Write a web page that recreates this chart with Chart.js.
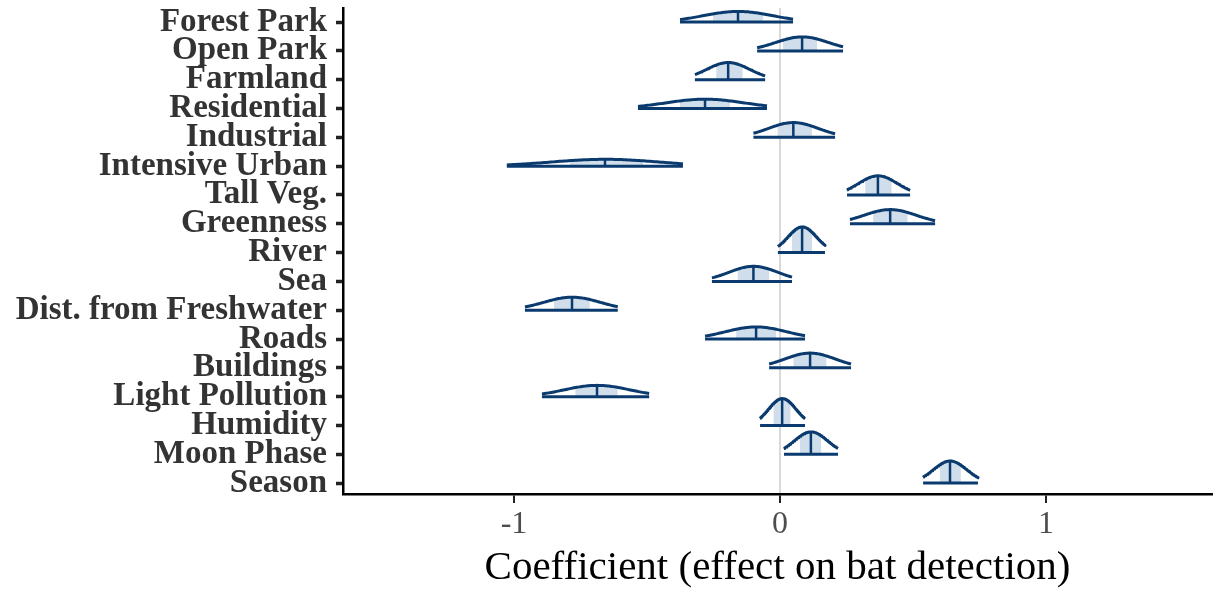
<!DOCTYPE html>
<html>
<head>
<meta charset="utf-8">
<script src="https://cdn.jsdelivr.net/npm/chart.js@4.4.1/dist/chart.umd.min.js"></script>
<style>
  html, body { margin: 0; padding: 0; background: #ffffff; }
  #wrap { width: 1214px; height: 590px; }
</style>
</head>
<body>
<div id="wrap"><canvas id="c" width="1214" height="590"></canvas></div>
<script>
// ---- Data (posterior summaries) ----
const categories = ["Forest Park", "Open Park", "Farmland", "Residential", "Industrial",
  "Intensive Urban", "Tall Veg.", "Greenness", "River", "Sea", "Dist. from Freshwater",
  "Roads", "Buildings", "Light Pollution", "Humidity", "Moon Phase", "Season"];
const medians   = [-0.158, 0.083, -0.195, -0.282, 0.050, -0.658, 0.368, 0.414, 0.083, -0.100, -0.782, -0.090, 0.113, -0.688, 0.008, 0.116, 0.639];
const outerLow  = [-0.376, -0.086, -0.320, -0.534, -0.100, -1.027, 0.252, 0.263, -0.008, -0.256, -0.959, -0.282, -0.041, -0.895, -0.075, 0.015, 0.538];
const outerHigh = [0.049, 0.237, -0.056, -0.049, 0.207, -0.365, 0.489, 0.583, 0.169, 0.045, -0.610, 0.094, 0.267, -0.492, 0.094, 0.218, 0.744];
const innerLow  = [-0.252, 0.010, -0.240, -0.376, -0.010, -0.790, 0.320, 0.350, 0.045, -0.160, -0.850, -0.165, 0.050, -0.770, -0.025, 0.075, 0.600];
const innerHigh = [-0.064, 0.140, -0.140, -0.188, 0.120, -0.515, 0.420, 0.480, 0.120, -0.040, -0.715, -0.015, 0.175, -0.610, 0.040, 0.155, 0.680];
const xTicks = [-1, 0, 1];
const xTitle = "Coefficient (effect on bat detection)";

// ---- Styling ----
const DARK = "#0a3a6e";
const LIGHT = "#cfdeea";
const HEIGHT_SCALE = 0.12;   // ridge height in row units per unit density
const OUTER_Z = 3.29;        // outer interval width in standard deviations (90%)

function dens(i, x) {
  const sd = (outerHigh[i] - outerLow[i]) / OUTER_Z;
  const z = (x - medians[i]) / sd;
  return Math.exp(-0.5 * z * z) / (sd * Math.sqrt(2 * Math.PI)) * HEIGHT_SCALE;
}
function curve(i, a, b, n) {
  const pts = [];
  for (let k = 0; k <= n; k++) {
    const x = a + (b - a) * k / n;
    pts.push({ x: x, y: i - dens(i, x) });
  }
  return pts;
}

const datasets = [];
categories.forEach((name, i) => {
  datasets.push({
    data: curve(i, innerLow[i], innerHigh[i], 40),
    showLine: true, pointRadius: 0, borderWidth: 0, borderColor: "rgba(0,0,0,0)",
    backgroundColor: LIGHT, fill: { value: i }, order: 3
  });
  datasets.push({
    data: curve(i, outerLow[i], outerHigh[i], 80),
    showLine: true, pointRadius: 0, borderWidth: 3, borderColor: DARK,
    fill: false, order: 1, borderJoinStyle: "round"
  });
  datasets.push({
    data: [{ x: outerLow[i], y: i }, { x: outerHigh[i], y: i }],
    showLine: true, pointRadius: 0, borderWidth: 3, borderColor: DARK,
    fill: false, order: 0
  });
  datasets.push({
    data: [{ x: medians[i], y: i }, { x: medians[i], y: i - dens(i, medians[i]) }],
    showLine: true, pointRadius: 0, borderWidth: 2.5, borderColor: DARK,
    fill: false, order: 0
  });
});

new Chart(document.getElementById("c"), {
  type: "scatter",
  data: { datasets: datasets },
  options: {
    responsive: false,
    animation: false,
    events: [],
    layout: { padding: { top: 8, right: 2, left: 0, bottom: 0 } },
    plugins: { legend: { display: false }, tooltip: { enabled: false } },
    scales: {
      x: {
        type: "linear",
        min: -1.643, max: 1.624,
        afterBuildTicks: (s) => { s.ticks = xTicks.map(v => ({ value: v })); },
        afterFit: (s) => { s.height = 96; s.paddingLeft = 0; s.paddingRight = 0; },
        border: { display: true, color: "#000", width: 2.5 },
        grid: {
          color: (ctx) => (ctx.tick && ctx.tick.value === 0) ? "#d9d9d9" : "rgba(0,0,0,0)",
          lineWidth: 2,
          drawTicks: true, tickLength: 9, tickColor: "#222", tickWidth: 2
        },
        ticks: {
          autoSkip: false, padding: 2, color: "#4d4d4d",
          font: { family: "Liberation Serif", size: 32 },
          callback: (v) => String(v)
        },
        title: {
          display: true, text: xTitle, color: "#000",
          font: { family: "Liberation Serif", size: 41, lineHeight: 1 },
          padding: { top: 0, bottom: 1 }
        }
      },
      y: {
        type: "linear",
        reverse: true,
        min: -0.49, max: 16.38,
        afterBuildTicks: (s) => { s.ticks = categories.map((_, i) => ({ value: i })); },
        afterFit: (s) => { s.width = 343; s.paddingTop = 0; s.paddingBottom = 0; },
        border: { display: true, color: "#000", width: 2.5 },
        grid: {
          drawOnChartArea: false, drawTicks: true, tickLength: 7,
          tickColor: "#222", tickWidth: 3.5
        },
        ticks: {
          autoSkip: false, padding: 9, color: "#333",
          font: { family: "Liberation Serif", size: 33, weight: "bold" },
          callback: (v) => categories[v]
        }
      }
    }
  }
});
</script>
</body>
</html>
